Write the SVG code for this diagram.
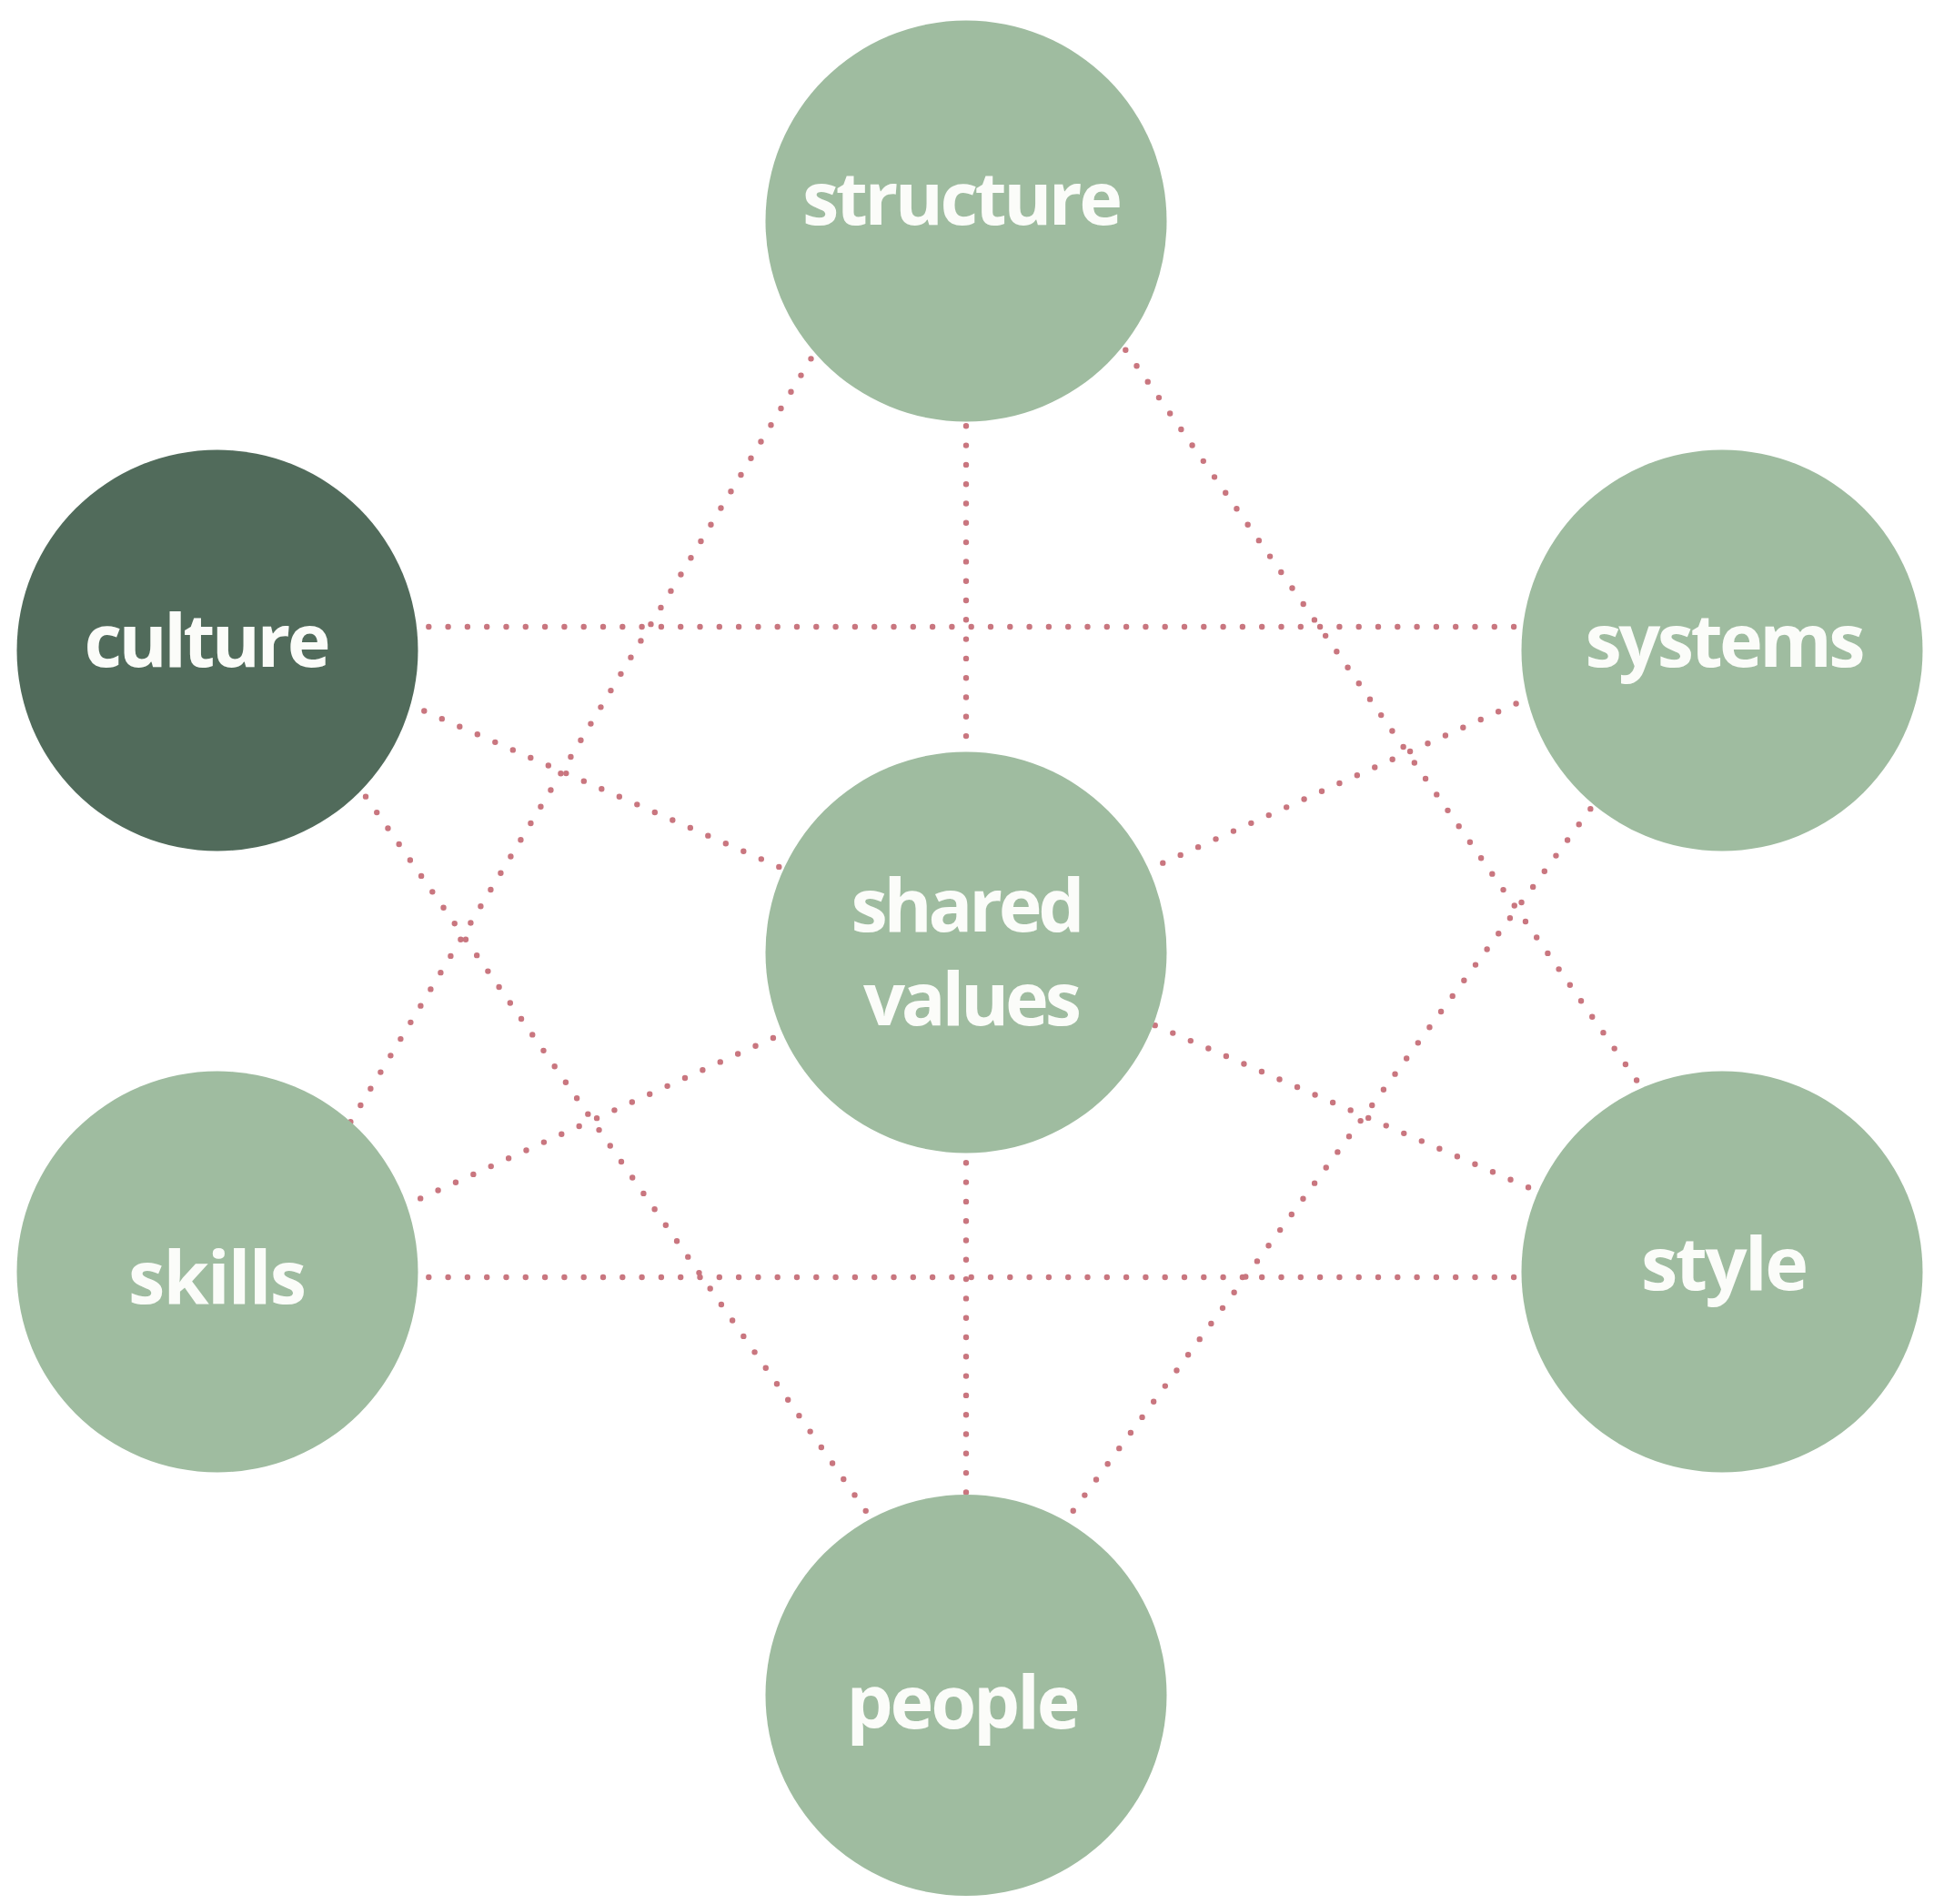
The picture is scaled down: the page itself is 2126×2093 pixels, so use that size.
<svg xmlns="http://www.w3.org/2000/svg" width="2126" height="2093" viewBox="0 0 2126 2093">
<style>
.c{stroke:#c9767f;stroke-width:6.4;stroke-linecap:round;stroke-dasharray:0 21.3;fill:none}
.n{fill:#9fbca0}
.d{fill:#516b5b}
.t{font-family:"Open Sans","Noto Sans",sans-serif;font-weight:700;font-size:81px;fill:#fbfcf9;text-anchor:middle}
</style>
<rect width="2126" height="2093" fill="#ffffff"/>
<g id="connectors">
<line class="c" x1="450" y1="689" x2="1685" y2="689"/>
<line class="c" x1="450" y1="1404" x2="1690" y2="1404"/>
<line class="c" x1="1062" y1="447" x2="1062" y2="835"/>
<line class="c" x1="1062" y1="1257" x2="1062" y2="1655"/>
<line class="c" x1="446.8" y1="773" x2="875.2" y2="961.2"/>
<line class="c" x1="1686" y1="764.7" x2="1259.1" y2="957.3"/>
<line class="c" x1="442.8" y1="1326.2" x2="872.4" y2="1130.7"/>
<line class="c" x1="1699.6" y1="1313.7" x2="1263" y2="1124.2"/>
<line class="c" x1="902.5" y1="376.1" x2="378.8" y2="1244.2"/>
<line class="c" x1="1225.1" y1="367.3" x2="1810.8" y2="1204.2"/>
<line class="c" x1="389.8" y1="858.2" x2="963.3" y2="1677.4"/>
<line class="c" x1="1761" y1="872" x2="1167.7" y2="1677.1"/>
</g>
<g id="structure">
<circle class="n" cx="1062" cy="243" r="220.5"/>
<text class="t" x="1058" y="247" textLength="352" lengthAdjust="spacing">structure</text>
</g>
<g id="culture">
<circle class="d" cx="239" cy="715" r="220.5"/>
<text class="t" x="228" y="733" textLength="271" lengthAdjust="spacing">culture</text>
</g>
<g id="systems">
<circle class="n" cx="1893" cy="715" r="220.5"/>
<text class="t" x="1896.5" y="733" textLength="308" lengthAdjust="spacing">systems</text>
</g>
<g id="shared-values">
<circle class="n" cx="1062" cy="1047" r="220.5"/>
<text class="t" x="1064" y="1024" textLength="257" lengthAdjust="spacing">shared</text>
<text class="t" x="1069" y="1127" textLength="240" lengthAdjust="spacing">values</text>
</g>
<g id="skills">
<circle class="n" cx="239" cy="1398" r="220.5"/>
<text class="t" x="239" y="1433" textLength="196" lengthAdjust="spacing">skills</text>
</g>
<g id="style">
<circle class="n" cx="1893" cy="1398" r="220.5"/>
<text class="t" x="1896" y="1418" textLength="184" lengthAdjust="spacing">style</text>
</g>
<g id="people">
<circle class="n" cx="1062" cy="1863.5" r="220.5"/>
<text class="t" x="1059" y="1900" textLength="257" lengthAdjust="spacing">people</text>
</g>
</svg>
